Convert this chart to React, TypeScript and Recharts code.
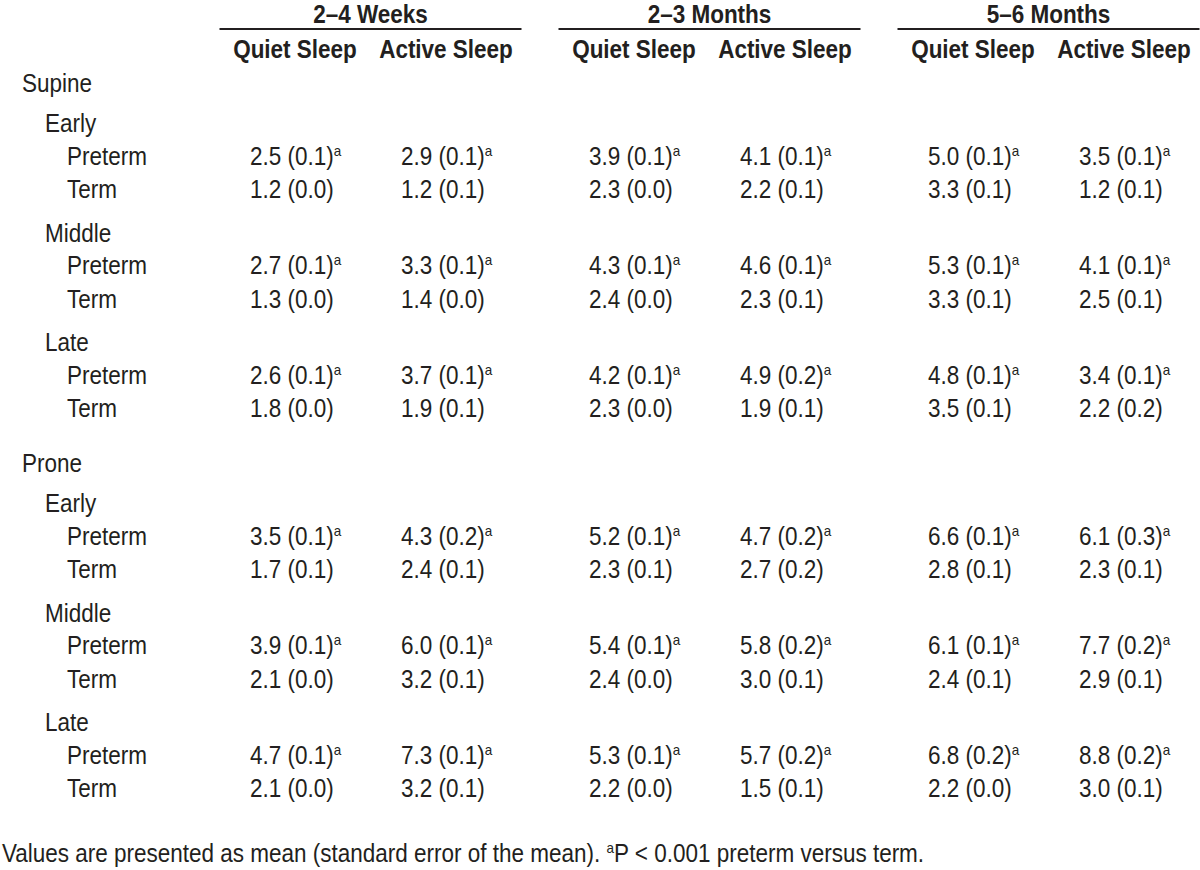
import { ScatterChart, Scatter, XAxis, YAxis, ReferenceLine } from "recharts";

// table structure
const PERIODS = ["2–4 Weeks", "2–3 Months", "5–6 Months"];
const STATES = ["Quiet Sleep", "Active Sleep"];
const POSITIONS = ["Supine", "Prone"];
const TIMINGS = ["Early", "Middle", "Late"];
const GROUPS = ["Preterm", "Term"];

// mean values, one row per timing (Early, Middle, Late),
// columns: 2–4 wk QS, AS, 2–3 mo QS, AS, 5–6 mo QS, AS
const SUPINE_PRETERM_MEAN = [
  [2.5, 2.9, 3.9, 4.1, 5.0, 3.5],
  [2.7, 3.3, 4.3, 4.6, 5.3, 4.1],
  [2.6, 3.7, 4.2, 4.9, 4.8, 3.4],
];
const SUPINE_PRETERM_SEM = [
  [0.1, 0.1, 0.1, 0.1, 0.1, 0.1],
  [0.1, 0.1, 0.1, 0.1, 0.1, 0.1],
  [0.1, 0.1, 0.1, 0.2, 0.1, 0.1],
];
const SUPINE_TERM_MEAN = [
  [1.2, 1.2, 2.3, 2.2, 3.3, 1.2],
  [1.3, 1.4, 2.4, 2.3, 3.3, 2.5],
  [1.8, 1.9, 2.3, 1.9, 3.5, 2.2],
];
const SUPINE_TERM_SEM = [
  [0.0, 0.1, 0.0, 0.1, 0.1, 0.1],
  [0.0, 0.0, 0.0, 0.1, 0.1, 0.1],
  [0.0, 0.1, 0.0, 0.1, 0.1, 0.2],
];
const PRONE_PRETERM_MEAN = [
  [3.5, 4.3, 5.2, 4.7, 6.6, 6.1],
  [3.9, 6.0, 5.4, 5.8, 6.1, 7.7],
  [4.7, 7.3, 5.3, 5.7, 6.8, 8.8],
];
const PRONE_PRETERM_SEM = [
  [0.1, 0.2, 0.1, 0.2, 0.1, 0.3],
  [0.1, 0.1, 0.1, 0.2, 0.1, 0.2],
  [0.1, 0.1, 0.1, 0.2, 0.2, 0.2],
];
const PRONE_TERM_MEAN = [
  [1.7, 2.4, 2.3, 2.7, 2.8, 2.3],
  [2.1, 3.2, 2.4, 3.0, 2.4, 2.9],
  [2.1, 3.2, 2.2, 1.5, 2.2, 3.0],
];
const PRONE_TERM_SEM = [
  [0.1, 0.1, 0.1, 0.2, 0.1, 0.1],
  [0.0, 0.1, 0.0, 0.1, 0.1, 0.1],
  [0.0, 0.1, 0.0, 0.1, 0.0, 0.1],
];

const FOOTNOTE = "Values are presented as mean (standard error of the mean). ";
const FOOTNOTE_END = "P < 0.001 preterm versus term.";

const MEANS = [
  [SUPINE_PRETERM_MEAN, SUPINE_TERM_MEAN],
  [PRONE_PRETERM_MEAN, PRONE_TERM_MEAN],
];
const SEMS = [
  [SUPINE_PRETERM_SEM, SUPINE_TERM_SEM],
  [PRONE_PRETERM_SEM, PRONE_TERM_SEM],
];

// layout (pixel units of the axes)
const W = 1200;
const H = 870;
const INK = "#231f20";
const FONT = "'Liberation Sans', Arial, sans-serif";
const FS = 25;
const SQUEEZE = "scale(0.9 1)";
const FIRST_COL = 295;
const PERIOD_STEP = 339;
const STATE_STEP = 151;
const VALUE_INSET = 45;
const INDENT = [22, 45, 67];

const colCenter = (p: number, s: number) => FIRST_COL + p * PERIOD_STEP + s * STATE_STEP;

const headers = [
  ...PERIODS.map((t, p) => ({ x: colCenter(p, 0) + STATE_STEP / 2, y: 23, text: t, bold: true })),
  ...PERIODS.flatMap((_, p) =>
    STATES.map((t, s) => ({ x: colCenter(p, s), y: 58, text: t, bold: true }))
  ),
];

const labels: { x: number; y: number; text: string }[] = [];
const values: { x: number; y: number; text: string; sig: boolean }[] = [];
let yPos = 92;
POSITIONS.forEach((pos, pi) => {
  if (pi > 0) yPos += 55;
  labels.push({ x: INDENT[0], y: yPos, text: pos });
  TIMINGS.forEach((tm, ti) => {
    yPos += ti === 0 ? 40 : 43.5;
    labels.push({ x: INDENT[1], y: yPos, text: tm });
    GROUPS.forEach((g, gi) => {
      yPos += gi === 0 ? 32.5 : 33.5;
      labels.push({ x: INDENT[2], y: yPos, text: g });
      MEANS[pi][gi][ti].forEach((m, c) => {
        const se = SEMS[pi][gi][ti][c];
        values.push({
          x: colCenter(Math.floor(c / 2), c % 2) - VALUE_INSET,
          y: yPos,
          text: `${m.toFixed(1)} (${se.toFixed(1)})`,
          sig: gi === 0,
        });
      });
    });
  });
});
const footnote = [{ x: 2, y: yPos + 65 }];

const HeaderCell = ({ cx, cy, payload }: any) => (
  <text
    transform={`translate(${cx} ${cy}) ${SQUEEZE}`}
    textAnchor="middle"
    fontFamily={FONT}
    fontSize={FS}
    fontWeight="bold"
    fill={INK}
  >
    {payload.text}
  </text>
);

const LabelCell = ({ cx, cy, payload }: any) => (
  <text transform={`translate(${cx} ${cy}) ${SQUEEZE}`} fontFamily={FONT} fontSize={FS} fill={INK}>
    {payload.text}
  </text>
);

const ValueCell = ({ cx, cy, payload }: any) => (
  <text transform={`translate(${cx} ${cy}) ${SQUEEZE}`} fontFamily={FONT} fontSize={FS} fill={INK}>
    {payload.text}
    {payload.sig && (
      <tspan fontSize={15} dy={-9}>
        a
      </tspan>
    )}
  </text>
);

const FootnoteCell = ({ cx, cy }: any) => (
  <text transform={`translate(${cx} ${cy}) ${SQUEEZE}`} fontFamily={FONT} fontSize={FS} fill={INK}>
    {FOOTNOTE}
    <tspan fontSize={15} dy={-9}>
      a
    </tspan>
    <tspan dy={9}>{FOOTNOTE_END}</tspan>
  </text>
);

export default function App() {
  return (
    <div style={{ width: W, height: H, background: "#fff" }}>
      <style>{"body{margin:0}"}</style>
      <ScatterChart width={W} height={H} margin={{ top: 0, right: 0, bottom: 0, left: 0 }}>
        <XAxis type="number" dataKey="x" domain={[0, W]} hide allowDataOverflow />
        <YAxis type="number" dataKey="y" domain={[0, H]} reversed hide allowDataOverflow />
        {PERIODS.map((_, p) => (
          <ReferenceLine
            key={p}
            segment={[
              { x: colCenter(p, 0) - STATE_STEP / 2, y: 29 },
              { x: colCenter(p, 1) + STATE_STEP / 2, y: 29 },
            ]}
            stroke={INK}
            strokeWidth={2}
          />
        ))}
        <Scatter data={headers} shape={HeaderCell} isAnimationActive={false} />
        <Scatter data={labels} shape={LabelCell} isAnimationActive={false} />
        <Scatter data={values} shape={ValueCell} isAnimationActive={false} />
        <Scatter data={footnote} shape={FootnoteCell} isAnimationActive={false} />
      </ScatterChart>
    </div>
  );
}
